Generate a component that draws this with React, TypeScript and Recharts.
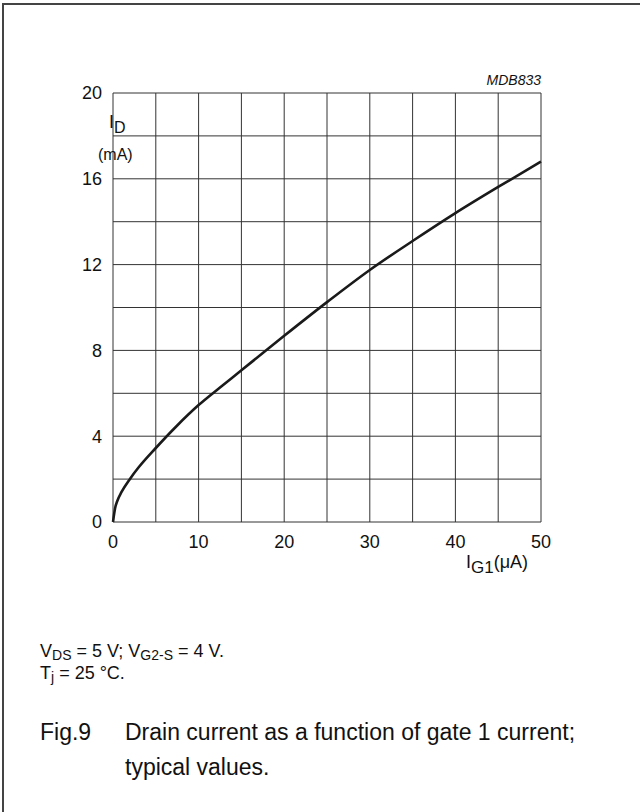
import { LineChart, Line, XAxis, YAxis, ReferenceLine } from 'recharts';

// gate 1 current (uA) and drain current (mA)
const gateCurrent = [0, 0.25, 0.5, 1, 2, 3, 5, 7.5, 10, 12.5, 15, 17.5, 20, 25, 30, 35, 40, 45, 50];
const drainCurrent = [0, 0.65, 0.98, 1.4, 2.02, 2.55, 3.45, 4.5, 5.45, 6.27, 7.07, 7.88, 8.68, 10.25, 11.75, 13.1, 14.4, 15.62, 16.8];

const xTicks = [0, 10, 20, 30, 40, 50];
const yTicks = [0, 4, 8, 12, 16, 20];
const xGrid = [0, 5, 10, 15, 20, 25, 30, 35, 40, 45, 50];
const yGrid = [0, 2, 4, 6, 8, 10, 12, 14, 16, 18, 20];

const data = gateCurrent.map((ig, i) => ({ ig, id: drainCurrent[i] }));

const font = '"Liberation Sans", Arial, sans-serif';
const tickStyle = { fontSize: 18, fill: '#111', fontFamily: font };
const sub = (size: number, drop: number) => ({ fontSize: size, position: 'relative' as const, top: drop });

export default function App() {
  return (
    <div
      style={{
        position: 'absolute',
        left: 0,
        top: 0,
        width: 640,
        height: 812,
        background: '#fff',
        overflow: 'hidden',
        fontFamily: font,
        color: '#111',
      }}
    >
      {/* open frame: top and left edges only */}
      <div
        style={{
          position: 'absolute',
          left: 2,
          top: 3,
          width: 700,
          height: 900,
          borderTop: '2px solid #444',
          borderLeft: '2px solid #444',
        }}
      />

      <LineChart
        width={640}
        height={812}
        data={data}
        margin={{ top: 93, right: 99, bottom: 260, left: 83 }}
        style={{ position: 'absolute', left: 0, top: 0 }}
      >
        <XAxis
          dataKey="ig"
          type="number"
          domain={[0, 50]}
          ticks={xTicks}
          axisLine={false}
          tickLine={false}
          tickSize={0}
          tickMargin={13}
          height={30}
          tick={tickStyle}
        />
        <YAxis
          type="number"
          domain={[0, 20]}
          ticks={yTicks}
          axisLine={false}
          tickLine={false}
          tickSize={0}
          tickMargin={11}
          width={30}
          tick={tickStyle}
        />
        {xGrid.map((v) => (
          <ReferenceLine key={'x' + v} x={v} stroke="#333" strokeWidth={1} />
        ))}
        {yGrid.map((v) => (
          <ReferenceLine key={'y' + v} y={v} stroke="#333" strokeWidth={1} />
        ))}
        <Line
          type="monotone"
          dataKey="id"
          stroke="#1a1a1a"
          strokeWidth={2.6}
          dot={false}
          isAnimationActive={false}
        />
      </LineChart>

      <div style={{ position: 'absolute', right: 99, top: 72, fontSize: 14, fontStyle: 'italic' }}>MDB833</div>

      <div style={{ position: 'absolute', left: 109, top: 112, fontSize: 18, whiteSpace: 'nowrap' }}>
        I<span style={sub(16, 5)}>D</span>
      </div>
      <div style={{ position: 'absolute', left: 98, top: 146, fontSize: 16 }}>(mA)</div>

      <div style={{ position: 'absolute', left: 466, top: 552, fontSize: 18, whiteSpace: 'nowrap' }}>
        I<span style={sub(17, 5)}>G1</span>(μA)
      </div>

      <div style={{ position: 'absolute', left: 40, top: 641, fontSize: 18, whiteSpace: 'nowrap' }}>
        V<span style={sub(14, 3)}>DS</span> = 5 V; V<span style={sub(14, 3)}>G2-S</span> = 4 V.
      </div>
      <div style={{ position: 'absolute', left: 40, top: 663, fontSize: 18, whiteSpace: 'nowrap' }}>
        T<span style={sub(14, 3)}>j</span> = 25 °C.
      </div>

      <div style={{ position: 'absolute', left: 40, top: 715, fontSize: 23, lineHeight: '35px', whiteSpace: 'nowrap' }}>
        Fig.9
      </div>
      <div style={{ position: 'absolute', left: 125, top: 715, fontSize: 23, lineHeight: '35px', whiteSpace: 'nowrap' }}>
        Drain current as a function of gate 1 current;
        <br />
        typical values.
      </div>
    </div>
  );
}
